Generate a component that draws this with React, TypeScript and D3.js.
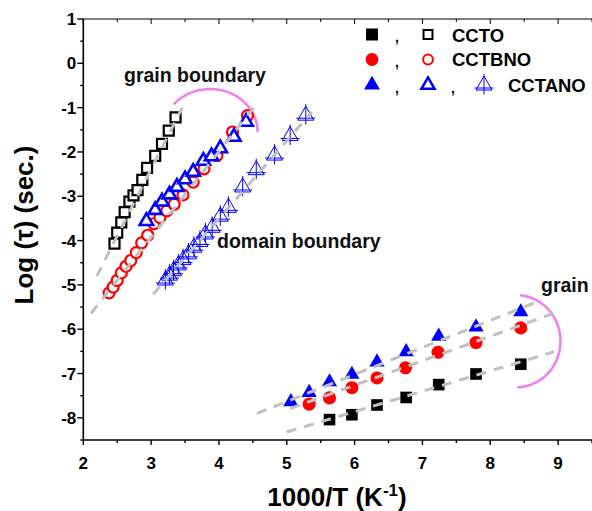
import React, { useRef, useEffect } from 'react';
import * as d3 from 'd3';

// CCTO (black squares)
const ctoGbX = [2.46, 2.5, 2.56, 2.61, 2.68, 2.74, 2.8, 2.87, 2.94, 3.06, 3.16, 3.26, 3.36];
const ctoGbY = [-4.07, -3.82, -3.59, -3.36, -3.12, -2.98, -2.86, -2.63, -2.36, -2.09, -1.82, -1.52, -1.22];
const ctoGX = [5.63, 5.96, 6.33, 6.76, 7.24, 7.79, 8.45];
const ctoGY = [-8.04, -7.93, -7.71, -7.54, -7.25, -7.01, -6.79];

// CCTBNO (red circles)
const bnoGbX = [2.38, 2.44, 2.5, 2.56, 2.63, 2.7, 2.78, 2.86, 2.95, 3.04, 3.13, 3.23, 3.34, 3.47, 3.62, 3.78, 3.97, 4.2, 4.42];
const bnoGbY = [-5.18, -5.05, -4.9, -4.73, -4.58, -4.45, -4.27, -4.05, -3.88, -3.62, -3.48, -3.33, -3.18, -2.97, -2.68, -2.38, -2.08, -1.55, -1.18];
const bnoGX = [5.33, 5.63, 5.96, 6.33, 6.75, 7.23, 7.79, 8.45];
const bnoGY = [-7.69, -7.55, -7.32, -7.1, -6.87, -6.52, -6.3, -5.97];

// CCTANO (blue triangles)
const anoGbX = [2.93, 3.06, 3.16, 3.27, 3.38, 3.5, 3.62, 3.77, 3.89, 4.02, 4.22, 4.4];
const anoGbY = [-3.56, -3.31, -3.12, -2.96, -2.79, -2.62, -2.45, -2.2, -2.1, -1.92, -1.66, -1.32];
const anoDbX = [3.21, 3.27, 3.33, 3.4, 3.47, 3.55, 3.63, 3.72, 3.8, 3.9, 4.02, 4.14, 4.35, 4.55, 4.82, 5.05, 5.28];
const anoDbY = [-4.89, -4.78, -4.68, -4.55, -4.43, -4.3, -4.15, -4.02, -3.85, -3.7, -3.45, -3.25, -2.79, -2.4, -2.07, -1.63, -1.17];
const anoGX = [5.06, 5.33, 5.63, 5.96, 6.33, 6.76, 7.24, 7.79, 8.45];
const anoGY = [-7.64, -7.43, -7.19, -7.02, -6.74, -6.51, -6.16, -5.95, -5.61];

// linear fits: [x1, y1, x2, y2]
const fitLines = [
    [2.2, -4.8, 3.46, -1.0],
    [2.115, -5.64, 4.58, -0.87],
    [3.03, -5.21, 5.37, -1.1],
    [4.56, -7.9, 8.76, -5.34],
    [5.05, -7.79, 8.94, -5.64],
    [5.0, -8.32, 8.94, -6.51],
];

const xTicks = [2, 3, 4, 5, 6, 7, 8, 9];
const yTicks = [1, 0, -1, -2, -3, -4, -5, -6, -7, -8];

const W = 592;
const H = 511;

const App: React.FC = () => {
    const svgRef = useRef<SVGSVGElement | null>(null);

    useEffect(() => {
        const svg = d3.select(svgRef.current);
        svg.selectAll('*').remove();

        const margin = { top: 19, right: 0, bottom: 71, left: 83.3 };
        const x = d3.scaleLinear().domain([2, 9.5]).range([margin.left, W - margin.right]);
        const y = d3.scaleLinear().domain([-8.5, 1]).range([H - margin.bottom, margin.top]);
        const font = "'Liberation Sans', Arial, sans-serif";
        const x0 = x(2), x1 = x(9.5), y0 = y(-8.5), y1 = y(1);

        // axes
        const minorX = d3.range(2, 9.51, 0.5);
        const minorY = d3.range(-8.5, 1.01, 0.5);
        const ax = svg.append('g').attr('stroke', '#000');
        ax.append('line').attr('x1', x0).attr('x2', x1).attr('y1', y0).attr('y2', y0).attr('stroke-width', 1.6);
        ax.append('line').attr('x1', x0).attr('x2', x1).attr('y1', y1).attr('y2', y1).attr('stroke-width', 1.2);
        ax.append('line').attr('x1', x0).attr('x2', x0).attr('y1', y0).attr('y2', y1).attr('stroke-width', 1.6);
        minorX.forEach(v => {
            const major = Number.isInteger(v);
            ax.append('line').attr('x1', x(v)).attr('x2', x(v))
                .attr('y1', y0).attr('y2', y0 + (major ? 5 : 3)).attr('stroke-width', 1.4);
            ax.append('line').attr('x1', x(v)).attr('x2', x(v))
                .attr('y1', y1).attr('y2', y1 + (major ? 5 : 3)).attr('stroke-width', 1);
        });
        minorY.forEach(v => {
            const major = Number.isInteger(v);
            ax.append('line').attr('x1', x0).attr('x2', x0 - (major ? 6 : 3))
                .attr('y1', y(v)).attr('y2', y(v)).attr('stroke-width', 1.4);
        });

        svg.append('g').selectAll('text').data(xTicks).enter().append('text')
            .attr('x', d => x(d)).attr('y', y0 + 29)
            .attr('text-anchor', 'middle')
            .style('font', `bold 17px ${font}`)
            .text(d => d);
        svg.append('g').selectAll('text').data(yTicks).enter().append('text')
            .attr('x', x0 - 7).attr('y', d => y(d) + 6)
            .attr('text-anchor', 'end')
            .style('font', `bold 17px ${font}`)
            .text(d => d);

        // axis titles
        svg.append('text')
            .attr('transform', `translate(33,225) rotate(-90)`)
            .attr('text-anchor', 'middle')
            .style('font', `bold 26px ${font}`)
            .text('Log (τ) (sec.)');
        const xl = svg.append('text')
            .attr('x', 337).attr('y', 506)
            .attr('text-anchor', 'middle')
            .style('font', `bold 26px ${font}`);
        xl.append('tspan').text('1000/T (K');
        xl.append('tspan').attr('dy', -10).style('font-size', '17px').text('-1');
        xl.append('tspan').attr('dy', 10).text(')');

        // pink arcs
        const arc = (cx: number, cy: number, rx: number, ry: number, t0: number, t1: number) =>
            d3.line<number>()
                .x(t => x(cx + rx * Math.cos(t * Math.PI / 180)))
                .y(t => y(cy + ry * Math.sin(t * Math.PI / 180)))
                .curve(d3.curveBasis)(d3.range(t0, t1 - 0.1, -3).concat([t1]));
        const pink = '#f47ef0';
        svg.append('path').attr('d', arc(3.87, -1.55, 0.7, 0.97, 140, 0) as string)
            .attr('fill', 'none').attr('stroke', pink).attr('stroke-width', 2.5);
        svg.append('path').attr('d', arc(8.385, -6.27, 0.65, 1.04, 85, -89) as string)
            .attr('fill', 'none').attr('stroke', pink).attr('stroke-width', 2.5);

        const sym = (type: d3.SymbolType, size: number) => d3.symbol().type(type).size(size)() as string;
        const crossTri = 'M0,-9L8,5L-8,5Z M0,-11L0,9.5 M-9.5,3L9.5,3';

        const pts = (xs: number[], ys: number[]) => xs.map((v, i) => [v, ys[i]]);
        const draw = (data: number[][], d: string, fill: string, stroke: string, sw: number) => {
            svg.append('g').selectAll('path').data(data).enter().append('path')
                .attr('transform', p => `translate(${x(p[0])},${y(p[1])})`)
                .attr('d', d)
                .attr('fill', fill).attr('stroke', stroke).attr('stroke-width', sw);
        };

        // grain boundary + domain boundary (open)
        draw(pts(ctoGbX, ctoGbY), sym(d3.symbolSquare, 100), '#fff', '#000', 2.2);
        draw(pts(anoDbX, anoDbY), crossTri, 'none', '#0000ff', 1);
        draw(pts(bnoGbX, bnoGbY), sym(d3.symbolCircle, 95), '#fff', '#ff0000', 2.2);
        draw(pts(anoGbX, anoGbY), sym(d3.symbolTriangle, 78), '#fff', '#0000ff', 2.6);

        // grain (filled)
        draw(pts(ctoGX, ctoGY), sym(d3.symbolSquare, 135), '#000', 'none', 0);
        draw(pts(bnoGX, bnoGY), sym(d3.symbolCircle, 135), '#ff0000', 'none', 0);
        draw(pts(anoGX, anoGY), sym(d3.symbolTriangle, 100), '#0000ff', 'none', 0);

        // fit lines
        svg.append('g').selectAll('line').data(fitLines).enter().append('line')
            .attr('x1', d => x(d[0])).attr('y1', d => y(d[1]))
            .attr('x2', d => x(d[2])).attr('y2', d => y(d[3]))
            .attr('stroke', '#c0c0c0').attr('stroke-width', 3)
            .attr('stroke-dasharray', '10,8');

        // annotations
        const note = (tx: number, ty: number, s: string) =>
            svg.append('text').attr('x', tx).attr('y', ty)
                .style('font', `bold 19.5px ${font}`).attr('fill', '#111').text(s);
        note(124, 82, 'grain boundary');
        note(217, 248, 'domain boundary');
        note(541, 292, 'grain');

        // legend
        const lg = svg.append('g').style('font', `bold 18.5px ${font}`);
        const mark = (cx: number, cy: number, d: string, fill: string, stroke: string, sw: number) =>
            lg.append('path').attr('transform', `translate(${cx},${cy})`).attr('d', d)
                .attr('fill', fill).attr('stroke', stroke).attr('stroke-width', sw);
        const txt = (tx: number, ty: number, s: string, size = 18.5) =>
            lg.append('text').attr('x', tx).attr('y', ty).style('font-size', `${size}px`).text(s);

        mark(372, 34.5, sym(d3.symbolSquare, 144), '#000', 'none', 0);
        txt(395, 42, ',', 14);
        mark(428, 34.5, sym(d3.symbolSquare, 80), '#fff', '#000', 2);
        txt(452, 41.5, 'CCTO');

        mark(372, 59.5, sym(d3.symbolCircle, 130), '#ff0000', 'none', 0);
        txt(395, 67, ',', 14);
        mark(428, 59.5, sym(d3.symbolCircle, 75), '#fff', '#ff0000', 2);
        txt(452, 66, 'CCTBNO');

        mark(372, 85, sym(d3.symbolTriangle, 110), '#0000ff', 'none', 0);
        txt(395, 93, ',', 14);
        mark(428, 85, sym(d3.symbolTriangle, 75), '#fff', '#0000ff', 2.5);
        txt(451, 93, ',', 14);
        mark(484, 85, crossTri, 'none', '#0000ff', 1);
        txt(508, 92, 'CCTANO');
    }, []);

    return (
        <svg ref={svgRef} width={W} height={H}
            style={{ position: 'absolute', left: 0, top: 0, background: '#fff' }} />
    );
};

export default App;
